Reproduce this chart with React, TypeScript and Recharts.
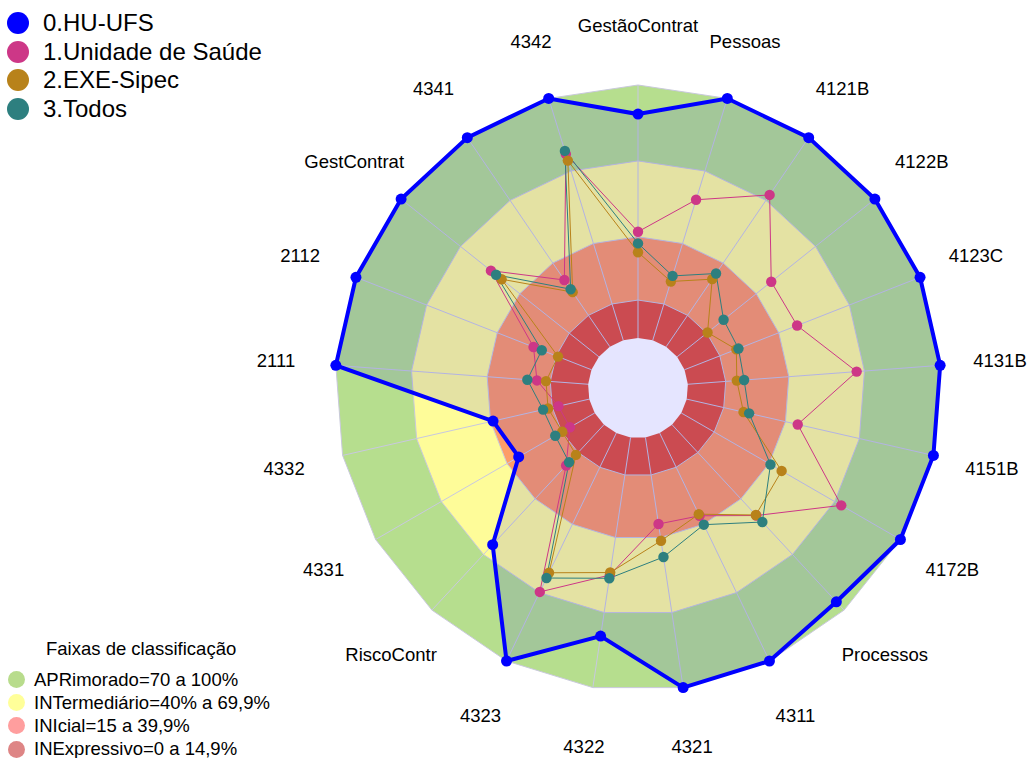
import React from 'react';
import { RadarChart, Radar, PolarGrid, PolarAngleAxis, PolarRadiusAxis } from 'recharts';

// eixos do radar, no sentido horário a partir do topo
const categories = [
  'GestãoContrat', 'Pessoas', '4121B', '4122B', '4123C', '4131B', '4151B', '4172B',
  'Processos', '4311', '4321', '4322', '4323', 'RiscoContr', '4331', '4332',
  '2111', '2112', 'GestContrat', '4341', '4342',
];

const huUfs = [88.5, 100, 100, 100, 100, 100, 100, 100, 95.5, 100, 100, 79.4, 100, 64.7, 34.7, 39, 100, 100, 100, 100, 100];
const unidadeSaude = [42, 58.1, 72.6, 47.6, 47.8, 66.9, 45, 73, 49, 36.3, 34.6, 55, 69.7, 22, 11.3, 12.5, 20.3, 24.6, 54.6, 31.9, 77];
const exeSipec = [33.9, 24.3, 32.3, 15.4, 22, 19.4, 23, 45.8, 48.7, 35.6, 41.3, 54, 61.3, 16.3, 14.8, 16.7, 16.7, 14.2, 49.2, 26.1, 74.3];
const todos = [37.4, 26.6, 35, 23.5, 22.9, 22.3, 25.3, 40.7, 52.5, 40.2, 47.8, 56.3, 63.6, 20.3, 18, 18.7, 24.1, 21.1, 52, 27.5, 78.3];

const seriesNames = ['0.HU-UFS', '1.Unidade de Saúde', '2.EXE-Sipec', '3.Todos'];
const seriesColors = ['#0000ff', '#cd3787', '#b8821a', '#2d7f7f'];

// faixas de classificação (limite superior de cada faixa)
const bandTops = [100, 70, 40, 15];
const bandNames = ['APRimorado=70 a 100%', 'INTermediário=40% a 69,9%', 'INIcial=15 a 39,9%', 'INExpressivo=0 a 14,9%'];
const bandFills = ['#b6de8e', '#fefc99', '#fd9c68', '#e2543e'];
const bandLegendColors = ['#b8dc8c', '#ffff99', '#ff9e9e', '#de8585'];

const font = "Arial, 'Liberation Sans', Helvetica, sans-serif";

const data = categories.map((subject, i) => ({
  subject,
  hu: huUfs[i],
  us: unidadeSaude[i],
  exe: exeSipec[i],
  todos: todos[i],
  b0: bandTops[0],
  b1: bandTops[1],
  b2: bandTops[2],
  b3: bandTops[3],
  hole: 0,
}));

const AngleTick = (props: any) => {
  const { x, y, payload } = props;
  return (
    <text x={x} y={y} textAnchor="middle" dominantBaseline="central" fontSize={18.5} fill="#000" fontFamily={font}>
      {payload.value}
    </text>
  );
};

const Dot = (color: string, r: number) => ({ r, fill: color, fillOpacity: 1, stroke: 'none' });

export default function App() {
  const keys = ['hu', 'us', 'exe', 'todos'];
  return (
    <div style={{ position: 'absolute', left: 0, top: 0, width: 1031, height: 758, background: '#fff', fontFamily: font }}>
      <RadarChart
        width={1031}
        height={758}
        data={data}
        cx={638}
        cy={388}
        innerRadius={50}
        outerRadius={303}
        margin={{ top: 0, right: 0, bottom: 0, left: 0 }}
      >
        <PolarRadiusAxis domain={[0, 100]} tick={false} axisLine={false} />
        <PolarAngleAxis dataKey="subject" tickSize={60} tickLine={false} axisLine={false} tick={AngleTick} />
        {bandTops.map((_, i) => (
          <Radar
            key={'band' + i}
            dataKey={'b' + i}
            fill={bandFills[i]}
            fillOpacity={1}
            stroke="#c9c9dc"
            strokeWidth={1}
            dot={false}
            legendType="none"
            zIndex={50}
            isAnimationActive={false}
          />
        ))}
        <Radar dataKey="hole" fill="#ffffff" fillOpacity={1} stroke="none" dot={false} legendType="none" zIndex={55} isAnimationActive={false} />
        <PolarGrid gridType="polygon" polarRadius={[]} stroke="#c8c8e0" strokeWidth={1} zIndex={60} />
        {keys.map((k, i) => (
          <Radar
            key={k}
            name={seriesNames[i]}
            dataKey={k}
            stroke={seriesColors[i]}
            strokeWidth={i === 0 ? 4 : 1}
            fill={seriesColors[i]}
            fillOpacity={i === 0 ? 0.1 : 0}
            dot={Dot(seriesColors[i], i === 0 ? 5.5 : 5.2)}
            zIndex={100}
            isAnimationActive={false}
          />
        ))}
      </RadarChart>

      <div style={{ position: 'absolute', left: 7, top: 9 }}>
        {seriesNames.map((name, i) => (
          <div key={name} style={{ display: 'flex', alignItems: 'center', height: 28.6 }}>
            <span style={{ width: 22, height: 22, borderRadius: '50%', background: seriesColors[i], display: 'inline-block' }} />
            <span style={{ marginLeft: 14, fontSize: 24, color: '#000', lineHeight: '28px' }}>{name}</span>
          </div>
        ))}
      </div>

      <div style={{ position: 'absolute', left: 8, top: 638 }}>
        <div style={{ fontSize: 18.5, color: '#000', marginLeft: 38, height: 30 }}>Faixas de classificação</div>
        {bandNames.map((name, i) => (
          <div key={name} style={{ display: 'flex', alignItems: 'center', height: 23.2 }}>
            <span style={{ width: 17, height: 17, borderRadius: '50%', background: bandLegendColors[i], display: 'inline-block' }} />
            <span style={{ marginLeft: 9, fontSize: 18.5, color: '#000', lineHeight: '22px' }}>{name}</span>
          </div>
        ))}
      </div>
    </div>
  );
}
